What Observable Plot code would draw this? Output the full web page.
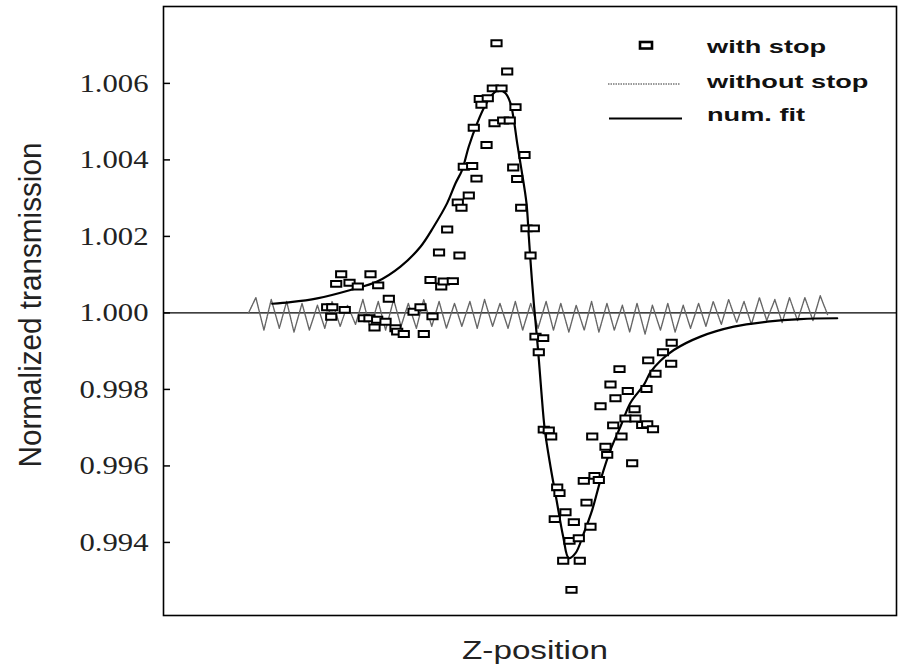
<!DOCTYPE html>
<html><head><meta charset="utf-8">
<script src="https://cdn.jsdelivr.net/npm/d3@7"></script>
<script src="https://cdn.jsdelivr.net/npm/@observablehq/plot@0.6"></script>
<style>
html,body{margin:0;padding:0;background:#fff;}
#wrap{width:898px;height:669px;overflow:hidden;}
</style></head><body>
<div id="wrap"></div>
<script>
// ---- data ----
const yTicks = [0.994, 0.996, 0.998, 1.000, 1.002, 1.004, 1.006];
const xLabel = "Z-position";
const yLabel = "Normalized transmission";
const legendLabels = ["with stop", "without stop", "num. fit"];

const withStopZ = [-27.67,-26.98,-27.12,-26.44,-25.76,-25.27,-24.62,-23.49,-22.67,-21.90,-21.76,-21.21,-20.85,-20.71,-19.71,-19.26,-18.35,-18.12,-17.22,-15.89,-14.94,-14.49,-13.30,-13.57,-12.11,-11.76,-10.53,-12.41,-9.62,-11.30,-9.85,-9.35,-8.35,-7.30,-9.03,-7.89,-5.93,-7.67,-4.84,-3.66,-2.76,-6.85,-5.76,-6.62,-5.07,-3.89,-4.57,-3.11,-1.98,-0.75,-2.29,-1.75,-1.20,-0.48,0.52,0.07,0.75,1.80,1.20,1.88,2.56,2.89,3.71,4.02,3.38,4.84,5.98,5.39,6.66,4.53,6.79,5.66,7.71,8.25,7.34,8.80,9.39,8.49,10.30,10.53,9.62,10.98,11.35,11.66,12.21,12.48,13.03,13.34,13.94,14.26,14.39,15.31,15.99,15.89,16.13,16.78,17.12,18.14,19.26,19.33];
const withStopT = [1.00015,1.00015,0.99990,1.00076,1.00101,1.00008,1.00079,1.00069,0.99986,0.99986,1.00101,0.99962,0.99982,1.00072,0.99977,1.00037,0.99960,0.99951,0.99945,1.00003,1.00015,0.99945,0.99991,1.00086,1.00069,1.00082,1.00083,1.00158,1.00150,1.00218,1.00289,1.00275,1.00307,1.00351,1.00382,1.00384,1.00439,1.00484,1.00496,1.00503,1.00503,1.00559,1.00561,1.00544,1.00587,1.00587,1.00705,1.00631,1.00538,1.00413,1.00380,1.00350,1.00275,1.00221,1.00221,1.00150,0.99938,0.99934,0.99897,0.99695,0.99693,0.99677,0.99544,0.99529,0.99461,0.99479,0.99453,0.99404,0.99411,0.99352,0.99352,0.99276,0.99504,0.99441,0.99561,0.99574,0.99563,0.99677,0.99650,0.99629,0.99756,0.99813,0.99706,0.99777,0.99853,0.99677,0.99724,0.99796,0.99607,0.99748,0.99724,0.99707,0.99709,0.99801,0.99876,0.99696,0.99841,0.99897,0.99867,0.99922];

const fitZ = [-35.17,-32.67,-29.03,-24.49,-20.85,-17.67,-14.94,-13.12,-11.30,-10.16,-9.25,-8.35,-7.20,-6.07,-5.16,-4.26,-3.34,-2.66,-2.21,-1.75,-1.16,-0.48,-0.16,0.16,0.52,1.06,1.53,2.02,2.80,3.62,4.53,5.29,6.21,7.34,8.49,9.62,10.98,12.35,13.71,15.53,16.44,17.80,19.62,23.26,27.80,32.36,36.90,41.91];
const fitT = [1.00024,1.00028,1.00038,1.00060,1.00082,1.00121,1.00173,1.00226,1.00287,1.00339,1.00374,1.00435,1.00496,1.00544,1.00570,1.00583,1.00574,1.00548,1.00505,1.00444,1.00374,1.00287,1.00199,1.00112,1.00025,0.99912,0.99799,0.99694,0.99598,0.99511,0.99415,0.99359,0.99372,0.99424,0.99485,0.99563,0.99642,0.99703,0.99765,0.99812,0.99845,0.99875,0.99903,0.99938,0.99964,0.99977,0.99984,0.99986];

const noStopZ = [-38.4,-37.4,-36.3,-35.3,-34.2,-33.2,-32.2,-31.1,-30.1,-29.0,-28.0,-27.0,-25.9,-24.9,-23.8,-22.8,-21.8,-20.7,-19.7,-18.6,-17.6,-16.6,-15.5,-14.5,-13.4,-12.4,-11.4,-10.3,-9.3,-8.2,-7.2,-6.2,-5.1,-4.1,-3.0,-2.0,-1.0,0.1,1.1,2.2,3.2,4.2,5.3,6.3,7.4,8.4,9.4,10.5,11.5,12.6,13.6,14.6,15.7,16.7,17.8,18.8,19.8,20.9,21.9,23.0,24.0,25.0,26.1,27.1,28.2,29.2,30.2,31.3,32.3,33.4,34.4,35.4,36.5,37.5,38.6,39.6,40.6];
const noStopT = [1.00000,1.00040,0.99955,1.00035,0.99960,1.00030,0.99950,1.00025,0.99955,1.00020,0.99960,1.00030,0.99965,1.00020,0.99970,1.00035,0.99960,1.00030,0.99955,1.00035,0.99965,1.00025,0.99960,1.00035,0.99965,1.00030,0.99960,1.00025,0.99965,1.00030,0.99960,1.00035,0.99965,1.00025,0.99960,1.00030,0.99955,1.00025,0.99960,1.00030,0.99955,1.00025,0.99950,1.00020,0.99955,1.00030,0.99950,1.00025,0.99955,1.00020,0.99950,1.00025,0.99945,1.00020,0.99955,1.00025,0.99950,1.00020,0.99960,1.00025,0.99965,1.00030,0.99970,1.00035,0.99975,1.00030,0.99970,1.00040,0.99980,1.00035,0.99975,1.00040,0.99980,1.00040,0.99980,1.00045,0.99995];

// ---- tables ----
const zip = (zs, ts) => d3.range(Math.min(zs.length, ts.length)).map(i => ({z: zs[i], t: ts[i]}));
const withStop = zip(withStopZ, withStopT);
const fit = zip(fitZ, fitT);
const noStop = zip(noStopZ, noStopT);

const boxSymbol = {
  draw(ctx, size) {
    const k = Math.sqrt(size / Math.PI);
    ctx.moveTo(-k, -0.58 * k); ctx.lineTo(k, -0.58 * k);
    ctx.lineTo(k, 0.58 * k); ctx.lineTo(-k, 0.58 * k); ctx.closePath();
  }
};

const chart = Plot.plot({
  width: 898, height: 669,
  marginLeft: 163, marginRight: 2, marginTop: 6, marginBottom: 54,
  x: {domain: [-50, 50], axis: null},
  y: {domain: [0.99209, 1.00801], axis: null},
  style: {background: "white", overflow: "visible"},
  marks: [
    Plot.ruleY([1], {stroke: "black", strokeWidth: 1.2}),
    Plot.line(noStop, {x: "z", y: "t", stroke: "#666", strokeWidth: 1.4, strokeDasharray: "1.6,0.8"}),
    Plot.line(fit, {x: "z", y: "t", curve: "catmull-rom", stroke: "black", strokeWidth: 2.2}),
    Plot.dot(withStop, {x: "z", y: "t", symbol: boxSymbol, r: 5.1, stroke: "black", strokeWidth: 2, fill: "white"}),
    Plot.tickY(yTicks, {y: d => d, stroke: "black", strokeWidth: 1.5, insetRight: 726}),
    Plot.axisY({ticks: yTicks, tickSize: 0, tickPadding: 15, tickFormat: d3.format(".3f"),
      fontSize: 26, fontFamily: "Liberation Serif", fill: "#222", label: null}),
    Plot.text([yLabel], {frameAnchor: "left", textAnchor: "middle", dx: -133, dy: -6, rotate: -90, fontSize: 27,
      fontFamily: "Liberation Sans", fill: "#222"}),
    Plot.text([xLabel], {frameAnchor: "bottom", textAnchor: "middle", dx: 5, dy: 43, fontSize: 25,
      fontFamily: "Liberation Sans", fill: "#222"}),
    Plot.frame({stroke: "black", strokeWidth: 1.6})
  ]
});

// horizontal stretch of text, as in the reference scan
function stretch(match, sx, sy = 1) {
  chart.querySelectorAll("text").forEach(t => {
    if (!match(t.textContent)) return;
    let tr = t.getAttribute("transform") || "";
    const m = tr.match(/rotate\([^)]*\)/);
    tr = m ? tr.replace(m[0], `scale(${sx},${sy}) ${m[0]}`) : tr + ` scale(${sx},${sy})`;
    t.setAttribute("transform", tr);
  });
}
stretch(s => /^\d\.\d{3}$/.test(s), 1.18);
stretch(s => s === xLabel, 1.33);
stretch(s => s === yLabel, 1.18, 1.1);

// legend
const svg = d3.select(chart);
const lg = svg.append("g").attr("class", "legend").attr("text-anchor", "start");
lg.append("rect").attr("x", 640).attr("y", 42).attr("width", 12).attr("height", 6.5)
  .attr("fill", "white").attr("stroke", "black").attr("stroke-width", 2.6);
lg.append("line").attr("x1", 608).attr("x2", 680).attr("y1", 84).attr("y2", 84)
  .attr("stroke", "#333").attr("stroke-width", 1.2).attr("stroke-dasharray", "1.5,1");
lg.append("line").attr("x1", 609).attr("x2", 682).attr("y1", 118.5).attr("y2", 118.5)
  .attr("stroke", "black").attr("stroke-width", 2);
const baselines = [53, 88, 121];
legendLabels.forEach((s, i) => {
  lg.append("text").text(s)
    .attr("transform", `translate(707,${baselines[i]}) scale(1.43,1)`)
    .attr("text-anchor", "start")
    .attr("font-family", "Liberation Sans").attr("font-weight", "bold")
    .attr("font-size", 19).attr("fill", "#111");
});

document.getElementById("wrap").appendChild(chart);
</script>
</body></html>
